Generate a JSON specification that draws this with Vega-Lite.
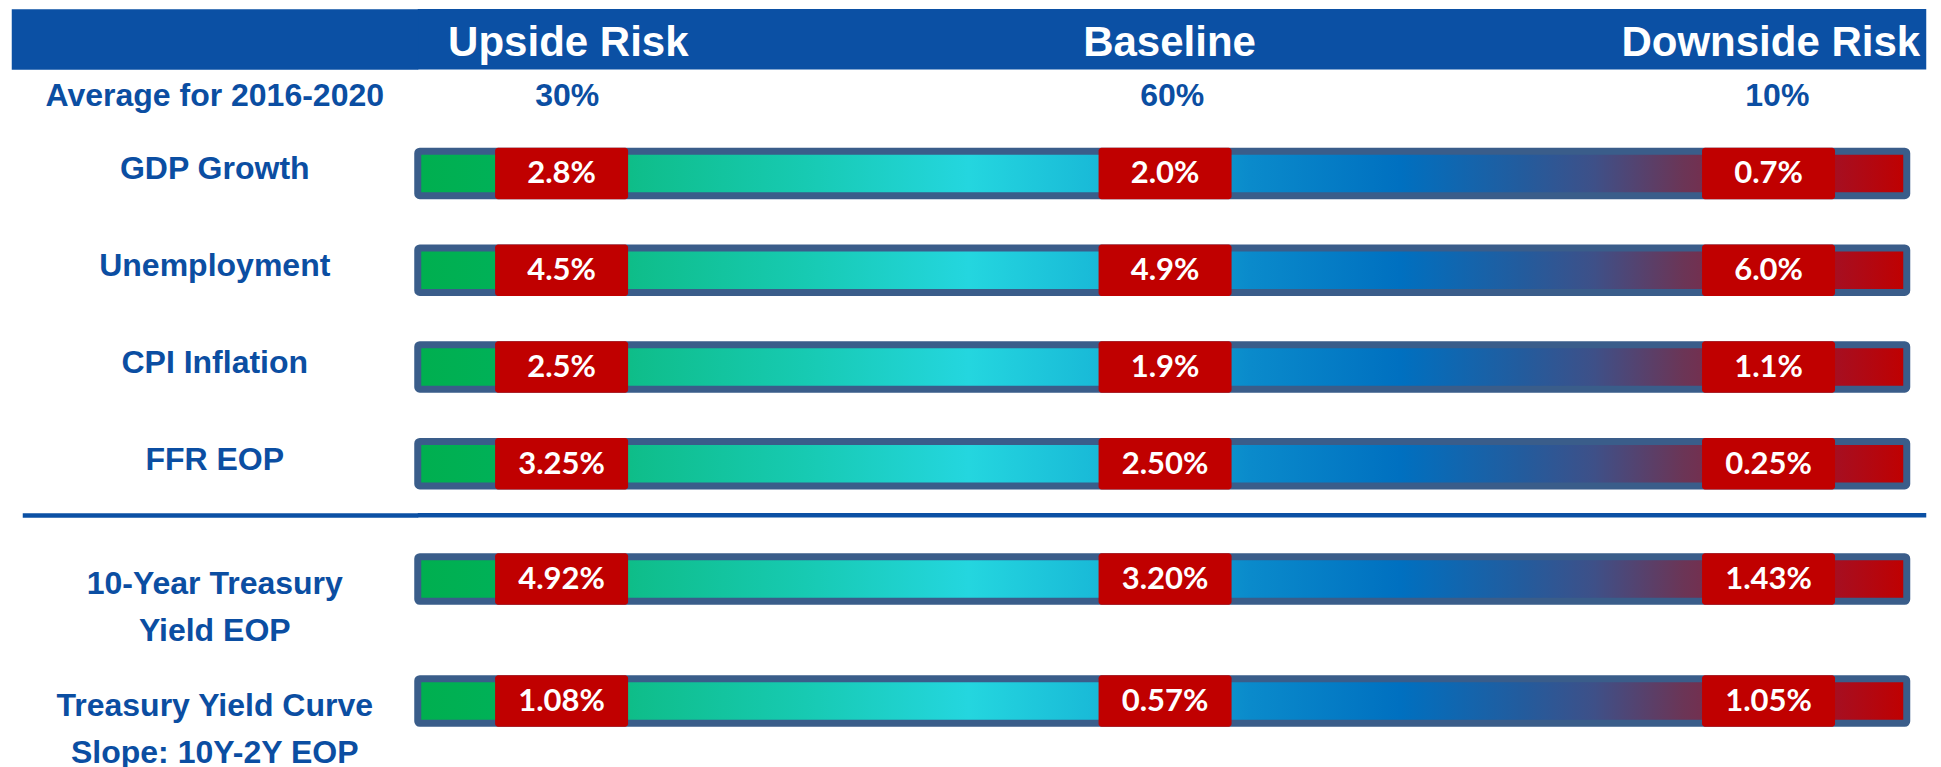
{
  "$schema": "https://vega.github.io/schema/vega-lite/v6.json",
  "background": "white",
  "padding": {"left": -19.25, "top": 8, "right": 0, "bottom": 0},
  "columns": 1,
  "spacing": 0,
  "config": {
    "view": {"stroke": null},
    "font": "Liberation Sans",
    "axisY": {
      "title": null,
      "ticks": false,
      "tickSize": 0,
      "domain": false,
      "grid": false,
      "labelAlign": "center",
      "labelBaseline": "middle",
      "labelPadding": 203.5,
      "labelLimit": 400,
      "labelFont": "Liberation Sans",
      "labelFontWeight": "bold",
      "labelFontSize": 32,
      "labelColor": "#0B4EA2",
      "minExtent": 406.5,
      "maxExtent": 406.5
    }
  },
  "datasets": {
    "scenarios": [
      {"scenario": "Upside Risk", "probability": 0.3},
      {"scenario": "Baseline", "probability": 0.6},
      {"scenario": "Downside Risk", "probability": 0.1}
    ],
    "forecasts": [
      {"group": "Economy", "indicator": "GDP Growth", "scenario": "Upside Risk", "value": 0.028},
      {"group": "Economy", "indicator": "GDP Growth", "scenario": "Baseline", "value": 0.020},
      {"group": "Economy", "indicator": "GDP Growth", "scenario": "Downside Risk", "value": 0.007},
      {"group": "Economy", "indicator": "Unemployment", "scenario": "Upside Risk", "value": 0.045},
      {"group": "Economy", "indicator": "Unemployment", "scenario": "Baseline", "value": 0.049},
      {"group": "Economy", "indicator": "Unemployment", "scenario": "Downside Risk", "value": 0.060},
      {"group": "Economy", "indicator": "CPI Inflation", "scenario": "Upside Risk", "value": 0.025},
      {"group": "Economy", "indicator": "CPI Inflation", "scenario": "Baseline", "value": 0.019},
      {"group": "Economy", "indicator": "CPI Inflation", "scenario": "Downside Risk", "value": 0.011},
      {"group": "Economy", "indicator": "FFR EOP", "scenario": "Upside Risk", "value": 0.0325},
      {"group": "Economy", "indicator": "FFR EOP", "scenario": "Baseline", "value": 0.025},
      {"group": "Economy", "indicator": "FFR EOP", "scenario": "Downside Risk", "value": 0.0025},
      {"group": "Treasury", "indicator": "10-Year Treasury Yield EOP", "scenario": "Upside Risk", "value": 0.0492},
      {"group": "Treasury", "indicator": "10-Year Treasury Yield EOP", "scenario": "Baseline", "value": 0.032},
      {"group": "Treasury", "indicator": "10-Year Treasury Yield EOP", "scenario": "Downside Risk", "value": 0.0143},
      {"group": "Treasury", "indicator": "Treasury Yield Curve Slope: 10Y-2Y EOP", "scenario": "Upside Risk", "value": 0.0108},
      {"group": "Treasury", "indicator": "Treasury Yield Curve Slope: 10Y-2Y EOP", "scenario": "Baseline", "value": 0.0057},
      {"group": "Treasury", "indicator": "Treasury Yield Curve Slope: 10Y-2Y EOP", "scenario": "Downside Risk", "value": 0.0105}
    ],
    "sections": [{"section": "Treasury yields"}]
  },
  "concat": [
    {
      "width": 1508.5,
      "height": 60.5,
      "view": {"fill": "#0B50A4", "stroke": null},
      "data": {"name": "scenarios"},
      "mark": {"type": "text", "fill": "white", "font": "Liberation Sans", "fontSize": 42, "fontWeight": "bold", "align": "center", "baseline": "middle", "dy": 4},
      "encoding": {
        "x": {"field": "scenario", "type": "nominal", "axis": null,
              "scale": {"type": "point", "domain": ["Upside Risk", "Baseline", "Downside Risk"], "padding": 0.2545, "align": 0.492}},
        "y": {"datum": "Scenario", "type": "nominal",
              "axis": {"labels": false, "ticks": true, "tickSize": 406.5, "tickWidth": 60.5, "tickColor": "#0B50A4", "tickCap": "butt"}},
        "text": {"field": "scenario", "type": "nominal"}
      }
    },
    {
      "width": 1509,
      "height": 54.5,
      "data": {"name": "scenarios"},
      "mark": {"type": "text", "fill": "#0B4EA2", "font": "Liberation Sans", "fontSize": 32, "fontWeight": "bold", "align": "center", "baseline": "middle", "dy": -1},
      "encoding": {
        "x": {"field": "scenario", "type": "nominal", "axis": null,
              "scale": {"type": "point", "domain": ["Upside Risk", "Baseline", "Downside Risk"], "padding": 0.247}},
        "y": {"datum": "Average for 2016-2020", "type": "nominal", "axis": {"labelOffset": -2}},
        "text": {"field": "probability", "type": "quantitative", "format": ".0%"}
      }
    },
    {
      "width": 1489,
      "height": 387,
      "data": {"name": "forecasts"},
      "transform": [{"filter": "datum.group === 'Economy'"}],
      "encoding": {
        "y": {"field": "indicator", "type": "nominal", "sort": null,
              "scale": {"paddingInner": 0, "paddingOuter": 0},
              "axis": {"labelOffset": -4}}
      },
      "layer": [
        {
          "transform": [{"filter": "datum.scenario === 'Baseline'"}],
          "mark": {"type": "bar", "height": 44.5, "stroke": "#3A5D8A", "strokeWidth": 7, "cornerRadius": 2,
                   "fill": {"gradient": "linear", "x1": 0, "y1": 0, "x2": 1, "y2": 0, "stops": [
                     {"offset": 0, "color": "#00AF4F"},
                     {"offset": 0.05, "color": "#00B157"},
                     {"offset": 0.15, "color": "#0FBE8C"},
                     {"offset": 0.26, "color": "#17CAB2"},
                     {"offset": 0.37, "color": "#24D6DF"},
                     {"offset": 0.47, "color": "#17B5D6"},
                     {"offset": 0.56, "color": "#0A8ACB"},
                     {"offset": 0.66, "color": "#0070C0"},
                     {"offset": 0.74, "color": "#225C9E"},
                     {"offset": 0.79, "color": "#3E5088"},
                     {"offset": 0.85, "color": "#6B3556"},
                     {"offset": 0.93, "color": "#9A1530"},
                     {"offset": 1, "color": "#C00000"}
                   ]}},
          "encoding": {"x": {"value": 0}, "x2": {"value": "width"}}
        },
        {
          "mark": {"type": "bar", "width": 133, "height": 51.5, "fill": "#C00000", "cornerRadius": 3},
          "encoding": {
            "x": {"field": "scenario", "type": "nominal", "axis": null,
                  "scale": {"type": "point", "domain": ["Upside Risk", "Baseline", "Downside Risk"], "padding": 0.2337, "align": 0.51}}
          }
        },
        {
          "mark": {"type": "text", "fill": "white", "font": "Lato", "fontSize": 31, "fontWeight": "bold", "align": "center", "baseline": "middle", "dy": 1},
          "encoding": {
            "x": {"field": "scenario", "type": "nominal", "axis": null},
            "text": {"condition": {"test": "datum.indicator === 'FFR EOP'", "field": "value", "type": "quantitative", "format": ".2%"},
                     "field": "value", "type": "quantitative", "format": ".1%"}
          }
        }
      ]
    },
    {
      "width": 1508.5,
      "height": 4.5,
      "data": {"name": "sections"},
      "mark": {"type": "rect", "fill": "#0B50A4"},
      "encoding": {
        "x": {"value": 0},
        "x2": {"value": "width"},
        "y": {"datum": "Treasury yields", "type": "nominal",
              "axis": {"labels": false, "ticks": true, "tickSize": 395.5, "tickWidth": 4.5, "tickColor": "#0B50A4", "tickCap": "butt"}}
      }
    },
    {
      "width": 1489,
      "height": 252.5,
      "data": {"name": "forecasts"},
      "transform": [{"filter": "datum.group === 'Treasury'"}],
      "encoding": {
        "y": {"field": "indicator", "type": "nominal", "sort": null,
              "scale": {"paddingInner": 0, "paddingOuter": 0.0348, "align": 0},
              "axis": {"labelBaseline": "top", "labelOffset": -10.5, "labelLineHeight": 47,
                       "labelExpr": "datum.label === '10-Year Treasury Yield EOP' ? ['10-Year Treasury', 'Yield EOP'] : ['Treasury Yield Curve', 'Slope: 10Y-2Y EOP']"}}
      },
      "layer": [
        {
          "transform": [{"filter": "datum.scenario === 'Baseline'"}],
          "mark": {"type": "bar", "height": 44.5, "stroke": "#3A5D8A", "strokeWidth": 7, "cornerRadius": 2,
                   "fill": {"gradient": "linear", "x1": 0, "y1": 0, "x2": 1, "y2": 0, "stops": [
                     {"offset": 0, "color": "#00AF4F"},
                     {"offset": 0.05, "color": "#00B157"},
                     {"offset": 0.15, "color": "#0FBE8C"},
                     {"offset": 0.26, "color": "#17CAB2"},
                     {"offset": 0.37, "color": "#24D6DF"},
                     {"offset": 0.47, "color": "#17B5D6"},
                     {"offset": 0.56, "color": "#0A8ACB"},
                     {"offset": 0.66, "color": "#0070C0"},
                     {"offset": 0.74, "color": "#225C9E"},
                     {"offset": 0.79, "color": "#3E5088"},
                     {"offset": 0.85, "color": "#6B3556"},
                     {"offset": 0.93, "color": "#9A1530"},
                     {"offset": 1, "color": "#C00000"}
                   ]}},
          "encoding": {"x": {"value": 0}, "x2": {"value": "width"}}
        },
        {
          "mark": {"type": "bar", "width": 133, "height": 51.5, "fill": "#C00000", "cornerRadius": 3},
          "encoding": {
            "x": {"field": "scenario", "type": "nominal", "axis": null,
                  "scale": {"type": "point", "domain": ["Upside Risk", "Baseline", "Downside Risk"], "padding": 0.2337, "align": 0.51}}
          }
        },
        {
          "mark": {"type": "text", "fill": "white", "font": "Lato", "fontSize": 31, "fontWeight": "bold", "align": "center", "baseline": "middle", "dy": 1},
          "encoding": {
            "x": {"field": "scenario", "type": "nominal", "axis": null},
            "text": {"field": "value", "type": "quantitative", "format": ".2%"}
          }
        }
      ]
    }
  ]
}
